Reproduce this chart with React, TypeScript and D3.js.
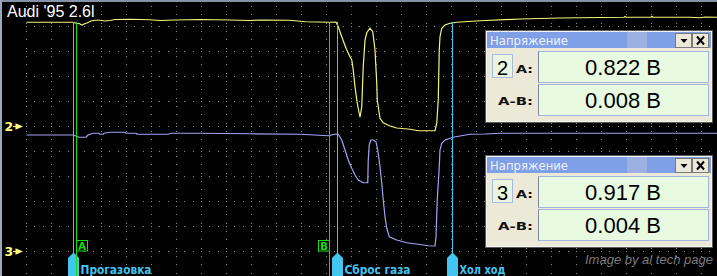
import React from "react";
import * as d3 from "d3";

// ---- data (time in screen divisions, voltage in volts) ----
const chartTitle = "Audi '95 2.6l";
const watermark = "Image by al tech page";

// channel 2 (yellow)
const ch2Time = [0, 1.86, 1.98, 2.10, 2.22, 2.30, 2.42, 2.58, 2.74, 2.94, 3.14, 3.34, 3.54, 4.14, 4.94, 5.34, 5.94, 6.94, 8.14, 8.94, 9.34, 10.54, 11.14, 12.14, 12.38, 12.47, 12.61, 12.78, 12.94, 13.01, 13.07, 13.14, 13.23, 13.34, 13.41, 13.47, 13.54, 13.61, 13.74, 13.85, 13.94, 14.01, 14.03, 14.14, 14.27, 14.54, 14.81, 15.34, 15.67, 16.34, 16.41, 16.47, 16.51, 16.54, 16.61, 16.74, 16.94, 17.21, 18.14, 19.74, 21.34, 22.94, 23.9, 23.94, 23.98, 24.98, 25.02, 25.06, 26.54, 26.94, 27.14, 27.62];
const ch2Volt = [0.834, 0.834, 0.826, 0.824, 0.812, 0.820, 0.828, 0.844, 0.850, 0.850, 0.844, 0.848, 0.856, 0.858, 0.854, 0.848, 0.852, 0.856, 0.852, 0.848, 0.852, 0.850, 0.838, 0.834, 0.836, 0.798, 0.718, 0.626, 0.558, 0.532, 0.452, 0.318, 0.186, 0.074, 0.158, 0.478, 0.692, 0.750, 0.786, 0.758, 0.612, 0.346, 0.212, 0.066, 0.030, 0.004, -0.012, -0.022, -0.034, -0.034, 0.026, 0.212, 0.612, 0.718, 0.786, 0.812, 0.826, 0.834, 0.846, 0.860, 0.868, 0.872, 0.874, 0.880, 0.874, 0.874, 0.882, 0.874, 0.874, 0.870, 0.876, 0.874];

// channel 3 (blue)
const ch3Time = [0, 1.86, 1.98, 2.10, 2.38, 2.46, 2.66, 2.90, 2.94, 3.06, 3.10, 3.34, 3.94, 3.98, 4.38, 4.42, 5.66, 5.74, 5.82, 6.94, 8.94, 10.94, 12.07, 12.21, 12.38, 12.47, 12.61, 12.74, 12.87, 13.01, 13.14, 13.27, 13.47, 13.65, 13.67, 13.71, 13.77, 13.87, 13.98, 14.05, 14.14, 14.21, 14.27, 14.34, 14.41, 14.51, 14.81, 15.21, 15.67, 16.07, 16.34, 16.38, 16.43, 16.51, 16.54, 16.61, 16.74, 16.94, 17.07, 17.34, 17.74, 18.34, 18.94, 27.62];
const ch3Volt = [0.932, 0.932, 0.924, 0.914, 0.914, 0.932, 0.946, 0.946, 0.938, 0.938, 0.946, 0.954, 0.954, 0.946, 0.946, 0.938, 0.938, 0.944, 0.946, 0.946, 0.942, 0.938, 0.926, 0.932, 0.940, 0.938, 0.892, 0.812, 0.732, 0.666, 0.612, 0.572, 0.550, 0.550, 0.732, 0.852, 0.892, 0.892, 0.878, 0.812, 0.678, 0.546, 0.412, 0.278, 0.186, 0.118, 0.092, 0.070, 0.058, 0.046, 0.044, 0.118, 0.412, 0.678, 0.812, 0.866, 0.892, 0.906, 0.914, 0.924, 0.938, 0.940, 0.946, 0.946];

const channelIds = ["2", "3"];
const cursorNames = ["A", "B"];
const cursorTimes = [2.0, 12.12];
const eventNames = ["Прогазовка", "Сброс газа", "Хол ход"];
const eventTimes = [1.88, 12.44, 17.04];
const panelTitle = "Напряжение";
const readingA = ["0.822 В", "0.917 В"];
const readingAB = ["0.008 В", "0.004 В"];
const gridCols = d3.range(0, 28);
const gridRows = d3.range(0, 10);

// ---- layout ----
const W = 717;
const H = 276;
const cursorTop = 22;
const eventLabelWidths = [71, 66, 46];
const panelTops = [30, 155];
const panelLeft = 485;

const YELLOW = "#f6f67c";
const BLUE = "#a4a4f6";
const GREEN = "#10e010";
const CYAN = "#42c6f0";
const GRID = "#8e8e8e";

function Panel({ px, py, ch, a, ab }: { px: number; py: number; ch: string; a: string; ab: string }) {
  return (
    <g transform={`translate(${px},${py})`}>
      <rect x={0.5} y={0.5} width={227} height={92} fill="#ece9d8" stroke="#5a5a5a" />
      <rect x={1.5} y={1.5} width={225} height={90} fill="none" stroke="#f6f6f0" />
      <rect x={2} y={2} width={224} height={16} fill="#7f9fe7" />
      <rect x={142} y={2} width={20} height={16} fill="#9db0e2" />
      <text x={5} y={15} fontFamily="DejaVu Sans" fontSize={12} fill="#eef2fc" textLength={78} lengthAdjust="spacingAndGlyphs">
        {panelTitle}
      </text>
      {/* buttons */}
      <rect x={190.5} y={3.5} width={16} height={14} fill="#ece9d8" stroke="#7a7a7a" />
      <path d="M195.5,9 L202.5,9 L199,13 Z" fill="#000" />
      <rect x={207.5} y={3.5} width={16} height={14} fill="#ece9d8" stroke="#7a7a7a" />
      <path d="M212,6.5 L219,14.5 M219,6.5 L212,14.5" stroke="#000" strokeWidth={2} />
      {/* channel box */}
      <rect x={7.5} y={24.5} width={20} height={23} fill="#eaf6e2" stroke="#a9bbd8" />
      <text x={17.5} y={44.5} textAnchor="middle" fontFamily="Liberation Sans" fontSize={20} fill="#000">
        {ch}
      </text>
      <text x={48} y={42.5} textAnchor="end" fontFamily="DejaVu Sans" fontWeight="bold" fontSize={11} fill="#111" textLength={17} lengthAdjust="spacingAndGlyphs">
        A:
      </text>
      <text x={48} y={74.5} textAnchor="end" fontFamily="DejaVu Sans" fontWeight="bold" fontSize={11} fill="#111" textLength={35} lengthAdjust="spacingAndGlyphs">
        A-B:
      </text>
      {/* value boxes */}
      <rect x={53.5} y={21.5} width={170} height={31} fill="#e8fbe0" stroke="#a3b5dc" />
      <line x1={53.5} y1={21.5} x2={53.5} y2={52.5} stroke="#8088a8" />
      <rect x={53.5} y={54.5} width={170} height={31} fill="#e8fbe0" stroke="#a3b5dc" />
      <line x1={53.5} y1={54.5} x2={53.5} y2={85.5} stroke="#8088a8" />
      <text x={138} y={44.5} textAnchor="middle" fontFamily="Liberation Sans" fontSize={22} fill="#000">
        {a}
      </text>
      <text x={138} y={78} textAnchor="middle" fontFamily="Liberation Sans" fontSize={22} fill="#000">
        {ab}
      </text>
    </g>
  );
}

export default function App() {
  const x = d3.scaleLinear().domain([0, 1]).range([26.5, 51.5]);
  const y2 = d3.scaleLinear().domain([0, 0.2]).range([126.5, 101.5]);
  const y3 = d3.scaleLinear().domain([0, 0.2]).range([251.5, 226.5]);

  const line2 = d3
    .line<number>()
    .x((_, i) => x(ch2Time[i]))
    .y((d) => y2(d));
  const line3 = d3
    .line<number>()
    .x((_, i) => x(ch3Time[i]))
    .y((d) => y3(d));

  const refY = [y2(0), y3(0)];

  return (
    <div style={{ position: "fixed", left: 0, top: 0 }}>
      <svg width={W} height={H} style={{ display: "block" }}>
        <rect x={0} y={0} width={W} height={H} fill="#000" />
        {/* grid */}
        <g shapeRendering="crispEdges">
          {gridCols.map((c) => (
            <line key={"c" + c} x1={x(c)} x2={x(c)} y1={6} y2={H} stroke={GRID} strokeDasharray="1 7.333" />
          ))}
          {gridRows.map((r) => (
            <line key={"r" + r} x1={26} x2={W} y1={y3(r * 0.2)} y2={y3(r * 0.2)} stroke={GRID} strokeDasharray="1 7.333" />
          ))}
        </g>

        {/* traces */}
        <path d={line3(ch3Volt) || ""} fill="none" stroke={BLUE} strokeWidth={1.2} />
        <path d={line2(ch2Volt) || ""} fill="none" stroke={YELLOW} strokeWidth={1.2} />

        {/* event cursors (cyan) */}
        {eventTimes.map((t, i) => {
          const cx = Math.round(x(t) - 0.5) + 0.5;
          return (
            <g key={"e" + i}>
              <line x1={cx} x2={cx} y1={cursorTop} y2={254} stroke={CYAN} strokeWidth={1} shapeRendering="crispEdges" />
              <path d={`M${cx - 5.5},258 L${cx},252.5 L${cx + 5.5},258 L${cx + 5.5},${H} L${cx - 5.5},${H} Z`} fill={CYAN} />
              <text
                x={cx + 7}
                y={274.3}
                fontFamily="DejaVu Sans"
                fontWeight="bold"
                fontSize={11.5}
                fill={CYAN}
                textLength={eventLabelWidths[i]}
                lengthAdjust="spacingAndGlyphs"
              >
                {eventNames[i]}
              </text>
            </g>
          );
        })}

        {/* measurement cursors (green) */}
        {cursorTimes.map((t, i) => {
          const cx = Math.round(x(t) - 0.5) + 0.5;
          const bx = i === 0 ? cx : cx - 11;
          return (
            <g key={"g" + i}>
              <line x1={cx} x2={cx} y1={cursorTop} y2={H} stroke={GREEN} strokeWidth={1} shapeRendering="crispEdges" />
              <rect x={bx} y={240.5} width={11} height={10.5} fill="#000" stroke={GREEN} strokeWidth={1} />
              <text x={bx + 5.5} y={249.5} textAnchor="middle" fontFamily="DejaVu Sans" fontWeight="bold" fontSize={10} fill={GREEN}>
                {cursorNames[i]}
              </text>
            </g>
          );
        })}

        {/* reference level markers */}
        {channelIds.map((id, i) => (
          <g key={"m" + id}>
            <text x={4.5} y={refY[i] + 4.5} fontFamily="DejaVu Sans" fontWeight="bold" fontSize={12.5} fill="#ffff80">
              {id}
            </text>
            <line x1={13} x2={17} y1={refY[i]} y2={refY[i]} stroke="#ffff80" strokeWidth={1.2} />
            <path d={`M15.5,${refY[i] - 3.2} L23,${refY[i]} L15.5,${refY[i] + 3.2} Z`} fill="#ffff80" />
          </g>
        ))}

        {/* readout panels */}
        {panelTops.map((py, i) => (
          <Panel key={"p" + i} px={panelLeft} py={py} ch={channelIds[i]} a={readingA[i]} ab={readingAB[i]} />
        ))}

        {/* title & watermark */}
        <text x={7} y={17} fontFamily="Liberation Sans" fontSize={16} fill="#ffffff">
          {chartTitle}
        </text>
        <text x={585} y={264} fontFamily="Liberation Sans" fontStyle="italic" fontSize={13} fill="#7c7c7c">
          {watermark}
        </text>

        {/* window borders */}
        <rect x={0} y={0} width={W} height={2} fill="#8592ac" />
        <rect x={0} y={0} width={2} height={H} fill="#9ea8bc" />
      </svg>
    </div>
  );
}
